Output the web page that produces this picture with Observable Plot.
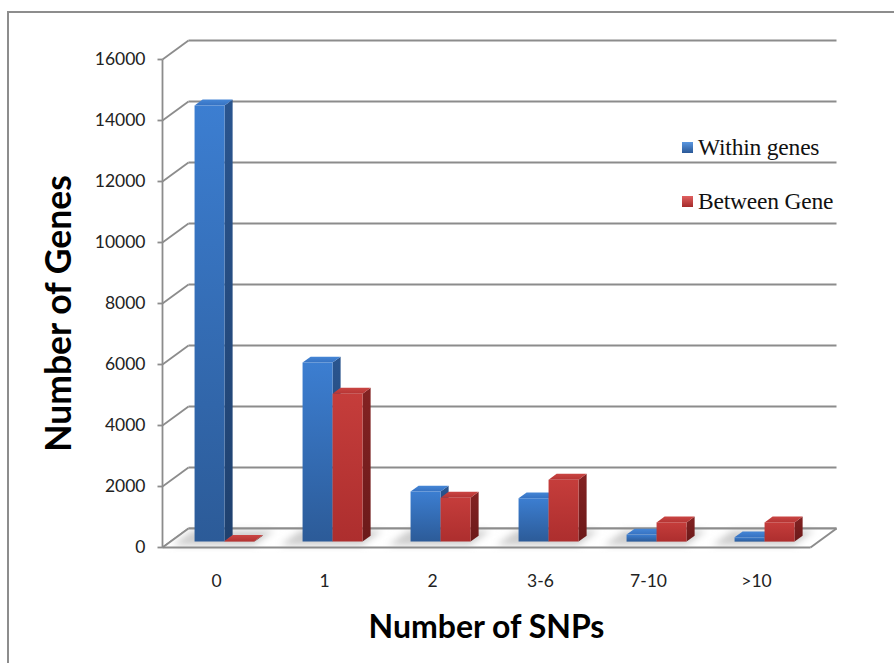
<!DOCTYPE html>
<html>
<head>
<meta charset="utf-8">
<script src="https://cdn.jsdelivr.net/npm/d3@7"></script>
<script src="https://cdn.jsdelivr.net/npm/@observablehq/plot@0.6"></script>
<style>
  html, body { margin: 0; padding: 0; background: #fff; width: 894px; height: 663px; overflow: hidden; }
  #frame { position: absolute; left: 7px; top: 11px; width: 1000px; height: 1000px;
           border-left: 2px solid #8d8d8d; border-top: 2px solid #8d8d8d; }
  #chart { position: absolute; left: 0; top: 0; }
  .key { position: absolute; left: 682px; height: 26px; font-family: "Liberation Serif", "Times New Roman", serif;
         font-size: 23.5px; line-height: 26px; color: #111; white-space: nowrap; letter-spacing: -0.2px; }
  .key i { display: inline-block; width: 11px; height: 11px; margin-right: 5px; vertical-align: 2px; }
</style>
</head>
<body>
<div id="frame"></div>
<div id="chart"></div>
<div id="legend"></div>
<script>
// Number of genes by number of SNPs, split by SNP location
const categories = ["0", "1", "2", "3-6", "7-10", ">10"];
const withinGenes = [14300, 5870, 1640, 1420, 230, 140];
const betweenGene = [20, 4850, 1440, 2030, 630, 630];
const seriesNames = ["Within genes", "Between Gene"];
const yTicks = [0, 2000, 4000, 6000, 8000, 10000, 12000, 14000, 16000];

const W = 894, H = 663;
const marginLeft = 162, marginRight = 84, marginTop = 59, marginBottom = 116;
const pxPerCat = (W - marginLeft - marginRight) / categories.length;
const pxPerValue = (H - marginTop - marginBottom) / 16000;

// Oblique 3-D projection: depth 0 is the front plane, depth 1 the back wall.
const DEPTH_X = 26 / pxPerCat;
const DEPTH_Y = 19 / pxPerValue;
const proj = (c, v, d) => ({x: c + d * DEPTH_X, y: v + d * DEPTH_Y});

const BAR_W = 30 / pxPerCat;     // bar width in category units
const BAR_D0 = 0.31, BAR_D1 = 0.62;
const LEFT = -0.5, RIGHT = categories.length - 0.5;

// Bar faces as closed polygons
const series = [withinGenes, betweenGene];
const faces = {front: [[], []], side: [[], []], top: [[], []]};
series.forEach((vals, s) => {
  vals.forEach((v, i) => {
    const x0 = s === 0 ? i - BAR_W : i, x1 = x0 + BAR_W;
    const poly = (key, pts) => pts.forEach(p => faces[key][s].push({id: `${s}-${i}`, ...proj(...p)}));
    poly("side", [[x1, 0, BAR_D0], [x1, 0, BAR_D1], [x1, v, BAR_D1], [x1, v, BAR_D0]]);
    poly("top", [[x0, v, BAR_D0], [x1, v, BAR_D0], [x1, v, BAR_D1], [x0, v, BAR_D1]]);
    poly("front", [[x0, 0, BAR_D0], [x1, 0, BAR_D0], [x1, v, BAR_D0], [x0, v, BAR_D0]]);
  });
});

// Soft shadows on the floor under each group
const shadows = [];
categories.forEach((c, i) => {
  const a = i - BAR_W - 0.16, b = i + BAR_W + 0.04;
  [[a, 0, 0.12], [b, 0, 0.12], [b, 0, 0.9], [a, 0, 0.9]].forEach(p => shadows.push({id: i, ...proj(...p)}));
});

const floor = [[LEFT, 0, 0], [RIGHT, 0, 0], [RIGHT, 0, 1], [LEFT, 0, 1]].map(p => proj(...p));

// Back-wall grid lines and their left-wall diagonals
const grid = [];
yTicks.forEach(v => {
  const fl = proj(LEFT, v, 0), bl = proj(LEFT, v, 1), br = proj(RIGHT, v, 1);
  grid.push({x1: fl.x, y1: fl.y, x2: bl.x, y2: bl.y});
  grid.push({x1: bl.x, y1: bl.y, x2: br.x, y2: br.y});
});
const floorEdges = [
  {a: proj(LEFT, 0, 0), b: proj(RIGHT, 0, 0)},
  {a: proj(RIGHT, 0, 0), b: proj(RIGHT, 0, 1)}
];

const gridColor = "#8c8c8c";
const faceFill = {
  front: ["url(#blueFront)", "url(#redFront)"],
  side: ["url(#blueSide)", "url(#redSide)"],
  top: ["url(#blueTop)", "url(#redTop)"]
};
const barMarks = [];
[0, 1].forEach(s => ["side", "top", "front"].forEach(k => {
  barMarks.push(Plot.line(faces[k][s], {x: "x", y: "y", z: "id", fill: faceFill[k][s], stroke: "none", curve: "linear"}));
}));

const chart = Plot.plot({
  width: W, height: H,
  marginLeft, marginRight, marginTop, marginBottom,
  style: {fontFamily: "Lato, 'Open Sans', sans-serif", fontSize: "17.5px", color: "#222", background: "transparent", overflow: "visible"},
  x: {type: "linear", domain: [LEFT, RIGHT], axis: null},
  y: {type: "linear", domain: [0, 16000], axis: null},
  marks: [
    Plot.link(grid, {x1: "x1", y1: "y1", x2: "x2", y2: "y2", stroke: gridColor, strokeWidth: 1.8}),
    Plot.line(floor, {x: "x", y: "y", fill: "#fff", stroke: "none"}),
    Plot.line(shadows, {x: "x", y: "y", z: "id", fill: "#c4c4c4", fillOpacity: 0.85, stroke: "none", ariaDescription: "floor shadow"}),
    Plot.link(floorEdges, {x1: d => d.a.x, y1: d => d.a.y, x2: d => d.b.x, y2: d => d.b.y, stroke: gridColor, strokeWidth: 2}),
    Plot.link([grid[0], grid[1]], {x1: "x1", y1: "y1", x2: "x2", y2: "y2", stroke: gridColor, strokeWidth: 1.8}),
    // value axis: line, ticks and labels
    Plot.link([0], {x1: () => LEFT, x2: () => LEFT, y1: () => 0, y2: () => 16000, stroke: gridColor, strokeWidth: 1.8}),
    Plot.link(yTicks, {x1: () => LEFT - 5 / pxPerCat, x2: () => LEFT, y1: d => d, y2: d => d, stroke: gridColor, strokeWidth: 1.8}),
    Plot.text(yTicks, {x: () => LEFT, y: d => d, text: d => String(d), textAnchor: "end", dx: -17, fill: "#222"}),
    // category labels
    Plot.text(categories, {x: (d, i) => i, y: () => 0, text: d => d, dy: 34, lineAnchor: "middle", fill: "#222"}),
    ...barMarks,
    // axis titles
    Plot.text(["Number of SNPs"], {frameAnchor: "bottom", text: d => d, dy: 80, textAnchor: "middle", lineAnchor: "middle", fontSize: 32, fontWeight: "bold", fill: "#000"}),
    Plot.text(["Number of Genes"], {frameAnchor: "left", text: d => d, dx: -103, dy: 10, rotate: -90, textAnchor: "middle", lineAnchor: "middle", fontSize: 35.5, fontWeight: "bold", fill: "#000"})
  ]
});

// Face shading gradients and the shadow blur
const svg = d3.select(chart);
const defs = svg.insert("defs", ":first-child");
const grad = (id, c0, c1, horizontal) => {
  const g = defs.append("linearGradient").attr("id", id)
    .attr("x1", 0).attr("y1", 0).attr("x2", horizontal ? 1 : 0).attr("y2", horizontal ? 0 : 1);
  g.append("stop").attr("offset", 0).attr("stop-color", c0);
  g.append("stop").attr("offset", 1).attr("stop-color", c1);
};
grad("blueFront", "#3c7ed1", "#2c5b98");
grad("blueSide", "#2a558f", "#1f416f");
grad("blueTop", "#4586d6", "#3672c2");
grad("redFront", "#c53d3b", "#ad2e2e");
grad("redSide", "#832222", "#6c1a1a");
grad("redTop", "#ca4543", "#b53433");
defs.append("filter").attr("id", "soft").attr("x", "-50%").attr("y", "-50%").attr("width", "200%").attr("height", "200%")
  .append("feGaussianBlur").attr("stdDeviation", 3.5);
svg.selectAll('[aria-description="floor shadow"]').attr("filter", "url(#soft)");

document.getElementById("chart").appendChild(chart);

// Legend
const legend = document.getElementById("legend");
const keyColors = ["linear-gradient(#5a97e0, #2a5897)", "linear-gradient(#e06060, #a42a2a)"];
const keyTops = [134, 188];
seriesNames.forEach((name, i) => {
  const el = document.createElement("div");
  el.className = "key";
  el.style.top = keyTops[i] + "px";
  el.innerHTML = `<i style="background:${keyColors[i]}"></i>`;
  el.appendChild(document.createTextNode(name));
  legend.appendChild(el);
});
</script>
</body>
</html>
